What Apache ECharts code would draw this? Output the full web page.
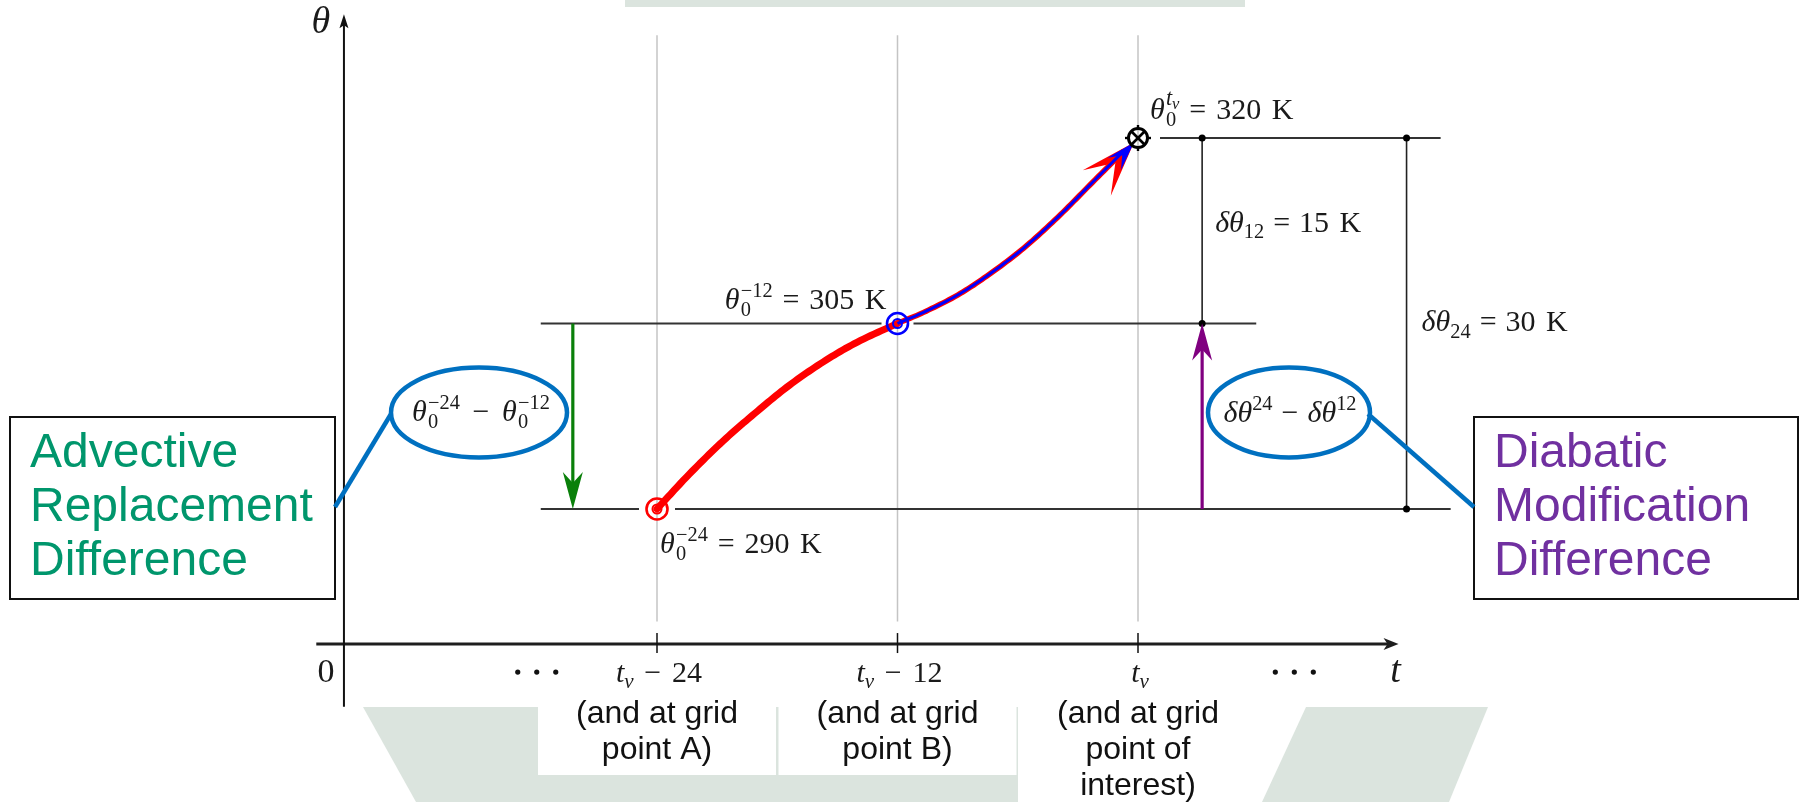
<!DOCTYPE html>
<html>
<head>
<meta charset="utf-8">
<title>Advective replacement vs diabatic modification</title>
<script src="https://cdn.jsdelivr.net/npm/echarts@6.0.0/dist/echarts.min.js"></script>
<style>
html,body{margin:0;padding:0;background:#fff;}
#chart{width:1800px;height:802px;}
</style>
</head>
<body>
<div id="chart"></div>
<script>
// ================= DATA =================
const timeTicks = [-24, -12, 0];                       // hours relative to t_v
const tickLabels = ['t_v − 24', 't_v − 12', 't_v'];
const gridNotes = [
  ['(and at grid', 'point A)'],
  ['(and at grid', 'point B)'],
  ['(and at grid', 'point of', 'interest)']
];
const thetaLevels = [290, 305, 320];                   // θ0 (K) at t_v−24, t_v−12, t_v
const levelSup = ['−24', '−12', 't_v'];
const curveT     = [-24, -22.4, -20.7, -19, -17.4, -15.7, -14, -12, -10.7, -9, -7.4, -5.7, -4, -2.4, -0.8, 0];
const curveTheta = [290, 292.8, 295.5, 297.9, 300.0, 301.9, 303.5, 305, 305.9, 307.3, 309.0, 311.1, 313.6, 316.2, 318.8, 320];
const blueStartIndex = 7;                              // blue path starts at t_v−12
const advectiveArrowT = -28.2;
const diabaticArrowT = 3.2;
const deltaLineT = [3.2, 13.4];                        // δθ12 and δθ24 bars
const levelLineT = [[-29.8, 15.6], [-29.8, 5.9], [0, 15.1]];
const boxLeftText = ['Advective', 'Replacement', 'Difference'];
const boxRightText = ['Diabatic', 'Modification', 'Difference'];

// ================= LAYOUT / STYLE =================
const W = 1800, H = 802;
const X_M24 = 657, X_0 = 1138, Y_290 = 509, Y_320 = 138;
const T_AXIS = [-41.0, 13.0], TH_TAXIS = 279.08;        // horizontal t axis
const T_THAXIS = -39.62, THETA_AXIS = [274.0, 330.0];  // vertical θ axis
const GRID_TH = [280.9, 328.3];
const ELLIPSIS_T = [-30.0, 7.8];
const SERIF = '"Liberation Serif","DejaVu Serif",serif';
const SANS = '"Liberation Sans",Arial,Helvetica,sans-serif';
const BG = '#dbe4de';
const BLUE = '#0070C0';

const mctx = document.createElement('canvas').getContext('2d');
function textW(t, f) { mctx.font = f; return mctx.measureText(t).width; }
function sf(size, it) { return (it ? 'italic ' : '') + size.toFixed(1) + 'px ' + SERIF; }
function layout(tokens, size) {
  const items = []; let cx = 0;
  for (const tk of tokens) {
    if (tk.sp != null) { cx += tk.sp * size; continue; }
    if (tk.stack) {
      let mw = 0;
      for (const seq of tk.stack) {
        const r = layout(seq, size);
        for (const it of r.items) items.push(Object.assign({}, it, { x: it.x + cx }));
        mw = Math.max(mw, r.width);
      }
      cx += mw; continue;
    }
    const f = sf(size * (tk.s || 1), tk.i);
    items.push({ text: tk.t, font: f, x: cx, y: (tk.dy || 0) * size });
    cx += textW(tk.t, f);
  }
  return { items, width: cx };
}
function mathEls(tokens, size, x, y, align, color, z) {
  const r = layout(tokens, size);
  const x0 = align === 'center' ? x - r.width / 2 : align === 'right' ? x - r.width : x;
  return r.items.map(it => {
    const e = { type: 'text', style: { text: it.text, font: it.font, x: x0 + it.x, y: y + it.y, fill: color || '#1a1a1a', align: 'left', verticalAlign: 'middle' } };
    if (z != null) e.z = z;
    return e;
  });
}
function supTokens(s) {
  if (s === 't_v') return [{ t: 't', i: true, s: 0.74, dy: -0.38 }, { t: 'v', i: true, s: 0.55, dy: -0.22 }];
  return [{ t: s, s: 0.68, dy: -0.32 }];
}
function thetaTok(sup, sub) {
  return [{ t: 'θ', i: true }, { sp: 0.04 }, { stack: [supTokens(sup), [{ t: sub, s: 0.68, dy: 0.32 }]] }];
}
function tickTokens(label) {
  const rest = label.replace('t_v', '').trim();
  const tk = [{ t: 't', i: true }, { t: 'v', i: true, s: 0.7, dy: 0.28 }];
  if (rest) {
    const num = rest.replace('−', '').trim();
    tk.push({ sp: 0.36 }, { t: '−' }, { sp: 0.36 }, { t: num });
  }
  return tk;
}
function arrowHead(tip, ang, L, w, notch, color) {
  const c = Math.cos(ang), s = Math.sin(ang);
  const P = (u, v) => [tip[0] + u * c - v * s, tip[1] + u * s + v * c];
  return { type: 'polygon', shape: { points: [P(0, 0), P(-L, w), P(-notch * L, 0), P(-L, -w)] }, style: { fill: color } };
}
// Catmull-Rom interpolation in screen space (rendering only)
function catmull(pts, n) {
  const out = [pts[0]]; const idx = [0];
  for (let i = 0; i < pts.length - 1; i++) {
    const p0 = pts[Math.max(0, i - 1)], p1 = pts[i], p2 = pts[i + 1], p3 = pts[Math.min(pts.length - 1, i + 2)];
    for (let k = 1; k <= n; k++) {
      const t = k / n, t2 = t * t, t3 = t2 * t;
      const f = (a, b, c, d) => 0.5 * ((2 * b) + (-a + c) * t + (2 * a - 5 * b + 4 * c - d) * t2 + (-a + 3 * b - 3 * c + d) * t3);
      out.push([f(p0[0], p1[0], p2[0], p3[0]), f(p0[1], p1[1], p2[1], p3[1])]);
    }
    idx.push(out.length - 1);
  }
  return { pts: out, idx };
}

// ================= SERIES =================
const series = [];

// vertical grey guide lines at the three times
series.push({
  type: 'custom', clip: false, silent: true, z: 1,
  data: timeTicks.map(t => [t, thetaLevels[0]]),
  renderItem: (p, api) => {
    const a = api.coord([api.value(0), GRID_TH[1]]), b = api.coord([api.value(0), GRID_TH[0]]);
    return { type: 'line', shape: { x1: a[0], y1: a[1], x2: b[0], y2: b[1] }, style: { stroke: '#c4c4c4', lineWidth: 1.5 } };
  }
});

// axes, ticks and tick labels
series.push({
  type: 'custom', clip: false, silent: true, z: 3,
  data: [[0, 290]],
  renderItem: (p, api) => {
    const ch = [];
    const o1 = api.coord([T_AXIS[0], TH_TAXIS]), o2 = api.coord([T_AXIS[1], TH_TAXIS]);
    ch.push({ type: 'line', shape: { x1: o1[0], y1: o1[1], x2: o2[0] - 8, y2: o2[1] }, style: { stroke: '#1e1e1e', lineWidth: 3 } });
    ch.push({ type: 'polygon', shape: { points: [[o2[0], o2[1]], [o2[0] - 15, o2[1] - 6], [o2[0] - 11, o2[1]], [o2[0] - 15, o2[1] + 6]] }, style: { fill: '#1e1e1e' } });
    const v1 = api.coord([T_THAXIS, THETA_AXIS[0]]), v2 = api.coord([T_THAXIS, THETA_AXIS[1]]);
    ch.push({ type: 'line', shape: { x1: v1[0], y1: v1[1], x2: v2[0], y2: v2[1] + 9 }, style: { stroke: '#111', lineWidth: 2 } });
    ch.push({ type: 'polygon', shape: { points: [[v2[0], v2[1]], [v2[0] - 4.5, v2[1] + 14], [v2[0], v2[1] + 11], [v2[0] + 4.5, v2[1] + 14]] }, style: { fill: '#111' } });
    timeTicks.forEach((t, i) => {
      const q = api.coord([t, TH_TAXIS]);
      ch.push({ type: 'line', shape: { x1: q[0], y1: q[1] - 11, x2: q[0], y2: q[1] + 9 }, style: { stroke: '#111', lineWidth: 1.5 } });
      ch.push(...mathEls(tickTokens(tickLabels[i]), 30, q[0] + 2, q[1] + 30, 'center'));
    });
    ch.push(...mathEls([{ t: '0' }], 34, v1[0] - 18, o1[1] + 29, 'center'));
    ch.push(...mathEls([{ t: 't', i: true }], 38, o2[0] - 3, o2[1] + 28, 'center'));
    ch.push(...mathEls([{ t: 'θ', i: true }], 38, v2[0] - 23, v2[1] + 9, 'center'));
    ELLIPSIS_T.forEach(t => {
      const q = api.coord([t, TH_TAXIS]);
      [-19, 0, 19].forEach(d => ch.push({ type: 'circle', shape: { cx: q[0] + d, cy: q[1] + 28, r: 2.6 }, style: { fill: '#111' } }));
    });
    return { type: 'group', children: ch };
  }
});

// white label panels and notes below the axis
series.push({
  type: 'custom', clip: false, silent: true, z: 2,
  data: timeTicks.map((t, i) => [t, thetaLevels[0], i]),
  renderItem: (p, api) => {
    const i = api.value(2);
    const q = api.coord([api.value(0), TH_TAXIS]);
    const lines = gridNotes[i];
    const ch = [{ type: 'rect', shape: { x: q[0] - 119, y: 707, width: 238, height: 34 * lines.length }, style: { fill: '#ffffff' } }];
    lines.forEach((ln, k) => ch.push({ type: 'text', style: { text: ln, font: '32px ' + SANS, x: q[0], y: 714 + 36 * k, fill: '#111', align: 'center', verticalAlign: 'middle' } }));
    return { type: 'group', children: ch };
  }
});

// horizontal θ level lines (with gaps around markers)
const gapR = [18, 16, 22];
series.push({
  type: 'custom', clip: false, silent: true, z: 2,
  data: thetaLevels.map((th, i) => [timeTicks[i], th, i]),
  renderItem: (p, api) => {
    const i = api.value(2), th = api.value(1);
    const m = api.coord([api.value(0), th]);
    const a = api.coord([levelLineT[i][0], th]), b = api.coord([levelLineT[i][1], th]);
    const g = gapR[i], ch = [];
    if (m[0] - g > a[0]) ch.push([a[0], m[0] - g]);
    if (b[0] > m[0] + g) ch.push([Math.max(a[0], m[0] + g), b[0]]);
    return { type: 'group', children: ch.map(s => ({ type: 'line', shape: { x1: s[0], y1: m[1], x2: s[1], y2: m[1] }, style: { stroke: '#333', lineWidth: 2 } })) };
  }
});

// δθ dimension bars
series.push({
  type: 'custom', clip: false, silent: true, z: 2,
  data: deltaLineT.map((t, i) => [t, thetaLevels[1 - i], thetaLevels[2]]),
  renderItem: (p, api) => {
    const a = api.coord([api.value(0), api.value(1)]), b = api.coord([api.value(0), api.value(2)]);
    return { type: 'group', children: [
      { type: 'line', shape: { x1: a[0], y1: a[1], x2: b[0], y2: b[1] }, style: { stroke: '#222', lineWidth: 1.6 } },
      { type: 'circle', shape: { cx: a[0], cy: a[1], r: 3.5 }, style: { fill: '#000' } },
      { type: 'circle', shape: { cx: b[0], cy: b[1], r: 3.5 }, style: { fill: '#000' } }
    ] };
  }
});

// advective (green) and diabatic (purple) arrows
series.push({
  type: 'custom', clip: false, silent: true, z: 3,
  data: [[advectiveArrowT, thetaLevels[1], thetaLevels[0], 0], [diabaticArrowT, thetaLevels[0], thetaLevels[1], 1]],
  renderItem: (p, api) => {
    const col = api.value(3) === 0 ? '#0a800a' : '#800080';
    const a = api.coord([api.value(0), api.value(1)]), b = api.coord([api.value(0), api.value(2)]);
    const ang = Math.atan2(b[1] - a[1], b[0] - a[0]);
    const dir = Math.sign(b[1] - a[1]);
    return { type: 'group', children: [
      { type: 'line', shape: { x1: a[0], y1: a[1], x2: b[0], y2: b[1] - dir * 20 }, style: { stroke: col, lineWidth: 3.2 } },
      arrowHead(b, ang, 37, 10, 0.7, col)
    ] };
  }
});

// trajectory curve
series.push({
  type: 'custom', clip: false, silent: true, z: 4,
  data: [[0, 320]],
  renderItem: (p, api) => {
    const raw = curveT.map((t, i) => api.coord([t, curveTheta[i]]));
    const sp = catmull(raw, 12);
    const all = sp.pts;
    const bIdx = sp.idx[blueStartIndex];
    const end = all[all.length - 1], back = all[all.length - 1 - 20];
    const ang = Math.atan2(end[1] - back[1], end[0] - back[0]) - 0.06;
    const c = Math.cos(ang), s = Math.sin(ang);
    const tip = [end[0] - 6 * c, end[1] - 6 * s];
    const trimmed = all.filter((q, k) => k <= bIdx || ((q[0] - tip[0]) * c + (q[1] - tip[1]) * s) < -12);
    const seg1 = trimmed.slice(0, bIdx + 1), seg2 = trimmed.slice(bIdx);
    return { type: 'group', children: [
      { type: 'polyline', shape: { points: seg1 }, style: { stroke: '#ff0000', lineWidth: 7, fill: 'none', lineCap: 'round', lineJoin: 'round' } },
      { type: 'polyline', shape: { points: seg2 }, style: { stroke: '#ff0000', lineWidth: 5.5, fill: 'none', lineJoin: 'round' } },
      arrowHead(tip, ang, 55, 19, 0.5, '#ff0000'),
      { type: 'polyline', shape: { points: seg2 }, style: { stroke: '#0000ff', lineWidth: 3, fill: 'none', lineJoin: 'round' } },
      arrowHead(tip, ang, 29, 9, 0.6, '#0000ff')
    ] };
  }
});

// point markers
series.push({
  type: 'custom', clip: false, silent: true, z: 5,
  data: thetaLevels.map((th, i) => [timeTicks[i], th, i]),
  renderItem: (p, api) => {
    const i = api.value(2);
    const m = api.coord([api.value(0), api.value(1)]);
    if (i < 2) {
      const col = i === 0 ? '#ff0000' : '#0000ff';
      return { type: 'group', children: [
        { type: 'circle', shape: { cx: m[0], cy: m[1], r: 10.5 }, style: { stroke: col, lineWidth: 2.6, fill: 'none' } },
        { type: 'circle', shape: { cx: m[0], cy: m[1], r: 4.5 }, style: { stroke: col, lineWidth: 2, fill: 'none' } }
      ] };
    }
    const ch = [
      { type: 'circle', shape: { cx: m[0], cy: m[1], r: 9.5 }, style: { stroke: '#000', lineWidth: 3, fill: 'none' } },
      { type: 'line', shape: { x1: m[0] - 6.5, y1: m[1] - 6.5, x2: m[0] + 6.5, y2: m[1] + 6.5 }, style: { stroke: '#000', lineWidth: 2.6 } },
      { type: 'line', shape: { x1: m[0] - 6.5, y1: m[1] + 6.5, x2: m[0] + 6.5, y2: m[1] - 6.5 }, style: { stroke: '#000', lineWidth: 2.6 } }
    ];
    [[0, -1], [0, 1], [-1, 0], [1, 0]].forEach(d => ch.push({ type: 'line', shape: { x1: m[0] + d[0] * 9, y1: m[1] + d[1] * 9, x2: m[0] + d[0] * 13, y2: m[1] + d[1] * 13 }, style: { stroke: '#000', lineWidth: 2.4 } }));
    return { type: 'group', children: ch };
  }
});

// value labels
const labelDefs = [
  { tokens: thetaTok(levelSup[0], '0').concat([{ sp: 0.33 }, { t: '=' }, { sp: 0.33 }, { t: String(thetaLevels[0]) }, { sp: 0.35 }, { t: 'K' }]), at: [timeTicks[0], thetaLevels[0]], dx: 3, dy: 36, align: 'left' },
  { tokens: thetaTok(levelSup[1], '0').concat([{ sp: 0.33 }, { t: '=' }, { sp: 0.33 }, { t: String(thetaLevels[1]) }, { sp: 0.35 }, { t: 'K' }]), at: [timeTicks[1], thetaLevels[1]], dx: -11, dy: -22, align: 'right' },
  { tokens: thetaTok(levelSup[2], '0').concat([{ sp: 0.33 }, { t: '=' }, { sp: 0.33 }, { t: String(thetaLevels[2]) }, { sp: 0.35 }, { t: 'K' }]), at: [timeTicks[2], thetaLevels[2]], dx: 12, dy: -27, align: 'left' },
  { tokens: [{ t: 'δθ', i: true }, { t: String(-timeTicks[1]), s: 0.68, dy: 0.3 }, { sp: 0.3 }, { t: '=' }, { sp: 0.3 }, { t: String(thetaLevels[2] - thetaLevels[1]) }, { sp: 0.35 }, { t: 'K' }], at: [deltaLineT[0], (thetaLevels[1] + thetaLevels[2]) / 2], dx: 13, dy: -7, align: 'left' },
  { tokens: [{ t: 'δθ', i: true }, { t: String(-timeTicks[0]), s: 0.68, dy: 0.3 }, { sp: 0.3 }, { t: '=' }, { sp: 0.3 }, { t: String(thetaLevels[2] - thetaLevels[0]) }, { sp: 0.35 }, { t: 'K' }], at: [deltaLineT[1], thetaLevels[1]], dx: 15, dy: 0, align: 'left' }
];
series.push({
  type: 'custom', clip: false, silent: true, z: 6,
  data: labelDefs.map((d, i) => [d.at[0], d.at[1], i]),
  renderItem: (p, api) => {
    const d = labelDefs[api.value(2)];
    const q = api.coord([api.value(0), api.value(1)]);
    return { type: 'group', children: mathEls(d.tokens, 30, q[0] + d.dx, q[1] + d.dy, d.align) };
  }
});

// ================= CALLOUTS (annotation graphics) =================
const leftExpr = thetaTok('−24', '0').concat([{ sp: 0.42 }, { t: '−' }, { sp: 0.42 }]).concat(thetaTok('−12', '0'));
const rightExpr = [{ t: 'δθ', i: true }, { t: '24', s: 0.68, dy: -0.32 }, { sp: 0.3 }, { t: '−' }, { sp: 0.3 }, { t: 'δθ', i: true }, { t: '12', s: 0.68, dy: -0.32 }];
const graphic = [
  { type: 'polygon', z: 0, silent: true, shape: { points: [[363, 707], [1018, 707], [1018, 802], [416, 802]] }, style: { fill: BG } },
  { type: 'polygon', z: 0, silent: true, shape: { points: [[1306, 707], [1488, 707], [1449, 802], [1262, 802]] }, style: { fill: BG } },
  { type: 'rect', z: 0, silent: true, shape: { x: 625, y: 0, width: 620, height: 7 }, style: { fill: BG } },
  { type: 'rect', z: 10, shape: { x: 10, y: 417, width: 325, height: 182 }, style: { fill: '#fff', stroke: '#111', lineWidth: 2 } },
  { type: 'rect', z: 10, shape: { x: 1474, y: 417, width: 324, height: 182 }, style: { fill: '#fff', stroke: '#111', lineWidth: 2 } },
  { type: 'ellipse', z: 10, shape: { cx: 479, cy: 412.5, rx: 88, ry: 45 }, style: { fill: 'none', stroke: BLUE, lineWidth: 4.5 } },
  { type: 'ellipse', z: 10, shape: { cx: 1289, cy: 412.5, rx: 81, ry: 45 }, style: { fill: 'none', stroke: BLUE, lineWidth: 4.5 } },
  { type: 'line', z: 10, shape: { x1: 391, y1: 414, x2: 335, y2: 507 }, style: { stroke: BLUE, lineWidth: 4.5 } },
  { type: 'line', z: 10, shape: { x1: 1368, y1: 414, x2: 1474, y2: 507 }, style: { stroke: BLUE, lineWidth: 4.5 } }
];
boxLeftText.forEach((t, k) => graphic.push({ type: 'text', z: 11, style: { text: t, font: '48px ' + SANS, x: 30, y: 454 + 54 * k, fill: '#00966c', align: 'left', verticalAlign: 'middle' } }));
boxRightText.forEach((t, k) => graphic.push({ type: 'text', z: 11, style: { text: t, font: '48px ' + SANS, x: 1494, y: 454 + 54 * k, fill: '#7030A0', align: 'left', verticalAlign: 'middle' } }));
graphic.push(...mathEls(leftExpr, 30, 481, 413, 'center', '#1a1a1a', 11));
graphic.push(...mathEls(rightExpr, 30, 1290, 414, 'center', '#1a1a1a', 11));

const chart = echarts.init(document.getElementById('chart'), null, { renderer: 'canvas', width: W, height: H });
chart.setOption({
  animation: false,
  backgroundColor: '#ffffff',
  grid: { left: X_M24, right: W - X_0, top: Y_320, bottom: H - Y_290 },
  xAxis: { type: 'value', min: timeTicks[0], max: timeTicks[2], show: false },
  yAxis: { type: 'value', min: thetaLevels[0], max: thetaLevels[2], show: false },
  graphic: graphic,
  series: series
});
</script>
</body>
</html>
